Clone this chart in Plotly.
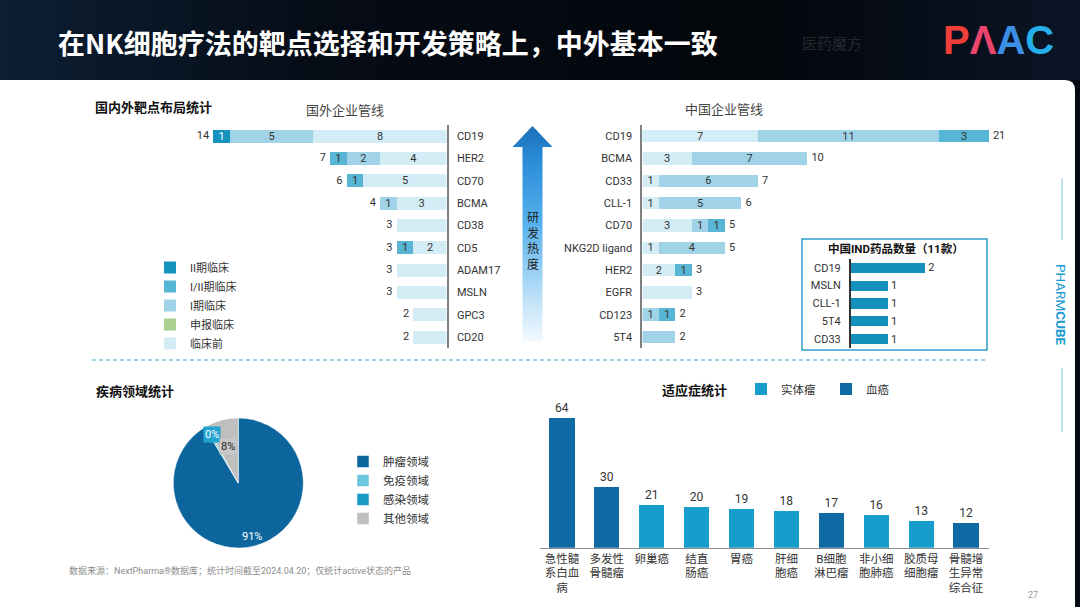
import plotly.graph_objects as go

W, H = 1080, 607


def px(x):
    return x / W


def py(y):
    return 1 - y / H


FONT = "Roboto, 'Noto Sans CJK SC', sans-serif"
CJK = "'Noto Sans CJK SC', sans-serif"

# ---------------- data ----------------
stage_names = ["II期临床", "I/II期临床", "I期临床", "申报临床", "临床前"]
stage_colors = ["#1692bf", "#58b6d4", "#a0d3e7", "#a9d08e", "#d4ecf6"]

foreign_targets = ["CD19", "HER2", "CD70", "BCMA", "CD38", "CD5", "ADAM17", "MSLN", "GPC3", "CD20"]
foreign_preclinical = [8, 4, 5, 3, 3, 2, 3, 3, 2, 2]
foreign_filing = [0, 0, 0, 0, 0, 0, 0, 0, 0, 0]
foreign_phase1 = [5, 2, 0, 1, 0, 0, 0, 0, 0, 0]
foreign_phase12 = [0, 1, 1, 0, 0, 1, 0, 0, 0, 0]
foreign_phase2 = [1, 0, 0, 0, 0, 0, 0, 0, 0, 0]

china_targets = ["CD19", "BCMA", "CD33", "CLL-1", "CD70", "NKG2D ligand", "HER2", "EGFR", "CD123", "5T4"]
china_preclinical = [7, 3, 1, 1, 3, 1, 2, 3, 0, 0]
china_phase1 = [11, 7, 6, 5, 1, 4, 0, 0, 1, 2]
china_phase12 = [3, 0, 0, 0, 1, 0, 1, 0, 1, 0]

ind_targets = ["CD19", "MSLN", "CLL-1", "5T4", "CD33"]
ind_counts = [2, 1, 1, 1, 1]

disease_areas = ["肿瘤领域", "免疫领域", "感染领域", "其他领域"]
disease_share = [91.4, 0.1, 0.4, 8.1]
disease_labels = ["91%", "0%", "8%"]
disease_colors = ["#0d659d", "#6cc4df", "#1a9bc6", "#bfbfbf"]

indications = ["急性髓<br>系白血<br>病", "多发性<br>骨髓瘤", "卵巢癌", "结直<br>肠癌", "胃癌",
               "肝细<br>胞癌", "B细胞<br>淋巴瘤", "非小细<br>胞肺癌", "胶质母<br>细胞瘤", "骨髓增<br>生异常<br>综合征"]
indication_counts = [64, 30, 21, 20, 19, 18, 17, 16, 13, 12]
indication_types = ["血癌", "血癌", "实体瘤", "实体瘤", "实体瘤", "实体瘤", "血癌", "实体瘤", "实体瘤", "血癌"]
type_names = ["实体瘤", "血癌"]
type_colors = ["#179dcb", "#0f69a2"]


def seg_text(vals, totals):
    # segment labels only on multi-segment bars
    return [str(v) if (v and v != t) else "" for v, t in zip(vals, totals)]


fig = go.Figure()

# ---------------- foreign pipeline (left) ----------------
foreign_totals = [a + b + c + d + e for a, b, c, d, e in zip(
    foreign_preclinical, foreign_filing, foreign_phase1, foreign_phase12, foreign_phase2)]
foreign_series = [
    ("临床前", foreign_preclinical, stage_colors[4], "#333333", 5),
    ("申报临床", foreign_filing, stage_colors[3], "#333333", 4),
    ("I期临床", foreign_phase1, stage_colors[2], "#333333", 3),
    ("I/II期临床", foreign_phase12, stage_colors[1], "#333333", 2),
    ("II期临床", foreign_phase2, stage_colors[0], "#ffffff", 1),
]
for name, vals, col, tcol, rank in foreign_series:
    fig.add_trace(go.Bar(
        y=foreign_targets, x=vals, orientation="h", name=name,
        marker=dict(color=col, line=dict(width=0)), width=0.58,
        text=seg_text(vals, foreign_totals), textposition="inside", insidetextanchor="middle",
        textangle=0, constraintext="none",
        textfont=dict(size=11, color=tcol, family=FONT),
        xaxis="x", yaxis="y", legendrank=rank, legend="legend",
    ))

fig.add_trace(go.Scatter(
    y=foreign_targets, x=foreign_totals, mode="markers+text", text=[str(t) for t in foreign_totals],
    marker=dict(size=5, color="rgba(0,0,0,0)"),
    textposition="middle left", textfont=dict(size=11, color="#333333", family=FONT),
    xaxis="x", yaxis="y", showlegend=False, cliponaxis=False,
))

# ---------------- China pipeline (right) ----------------
china_totals = [a + b + c for a, b, c in zip(china_preclinical, china_phase1, china_phase12)]
china_series = [
    ("临床前", china_preclinical, stage_colors[4]),
    ("I期临床", china_phase1, stage_colors[2]),
    ("I/II期临床", china_phase12, stage_colors[1]),
]
for name, vals, col in china_series:
    fig.add_trace(go.Bar(
        y=china_targets, x=vals, orientation="h", name=name,
        marker=dict(color=col, line=dict(width=0)), width=0.56,
        text=seg_text(vals, china_totals), textposition="inside", insidetextanchor="middle",
        textangle=0, constraintext="none",
        textfont=dict(size=11, color="#333333", family=FONT),
        xaxis="x2", yaxis="y2", showlegend=False,
    ))
fig.add_trace(go.Scatter(
    y=china_targets, x=china_totals, mode="markers+text", text=[str(t) for t in china_totals],
    marker=dict(size=5, color="rgba(0,0,0,0)"),
    textposition="middle right", textfont=dict(size=11, color="#333333", family=FONT),
    xaxis="x2", yaxis="y2", showlegend=False, cliponaxis=False,
))

# ---------------- IND inset ----------------
fig.add_trace(go.Bar(
    y=ind_targets, x=ind_counts, orientation="h", width=0.56,
    marker=dict(color="#1590bd", line=dict(width=0)),
    text=[str(v) for v in ind_counts], textposition="outside", constraintext="none",
    textfont=dict(size=11, color="#333333", family=FONT),
    xaxis="x3", yaxis="y3", showlegend=False, cliponaxis=False,
))

# ---------------- disease pie ----------------
fig.add_trace(go.Pie(
    labels=disease_areas, values=disease_share,
    textinfo="none", sort=False, direction="clockwise", rotation=0,
    marker=dict(colors=disease_colors, line=dict(color="#ffffff", width=0.5)),
    domain=dict(x=[px(173.3), px(303.3)], y=[py(548.3), py(417.7)]),
    legend="legend2",
))

# ---------------- indication bars ----------------
for tname, tcol in zip(type_names, type_colors):
    vals = [v if t == tname else None for v, t in zip(indication_counts, indication_types)]
    fig.add_trace(go.Bar(
        x=indications, y=vals, name=tname, width=0.56,
        marker=dict(color=tcol, line=dict(width=0)),
        texttemplate="%{y}", textposition="outside", constraintext="none",
        textfont=dict(size=12, color="#333333", family=FONT),
        xaxis="x4", yaxis="y4", legend="legend3", cliponaxis=False,
    ))

# ---------------- decorations (pixel overlay axis) ----------------
fig.add_trace(go.Scatter(
    x=[0, 1080, 1080, 0, 0], y=[0, 0, 80, 80, 0], mode="lines", fill="toself",
    line=dict(width=0), hoverinfo="skip", showlegend=False,
    fillgradient=dict(type="horizontal", start=0, stop=1080,
                      colorscale=[[0, "#0c1f33"], [0.3, "#060c16"], [0.7, "#03060b"], [1, "#0b1526"]]),
    xaxis="x5", yaxis="y5",
))
fig.add_trace(go.Scatter(
    x=[532.5, 552.5, 542.5, 542.5, 522.5, 522.5, 512.5, 532.5],
    y=[126, 147, 147, 342, 342, 147, 147, 126],
    mode="lines", fill="toself", line=dict(width=0), hoverinfo="skip", showlegend=False,
    fillgradient=dict(type="vertical", start=126, stop=342,
                      colorscale=[[0, "#1a6fb6"], [0.15, "#2a8bd6"], [0.45, "#55b2ee"],
                                  [0.8, "#bfe1f8"], [1, "#f4faff"]]),
    xaxis="x5", yaxis="y5",
))

shapes = [
    dict(type="path", xref="paper", yref="paper", layer="below",
         path=(f"M{px(0)},{py(80)} L{px(1065)},{py(80)} Q{px(1075)},{py(80)} {px(1075)},{py(90)} "
               f"L{px(1075)},{py(607)} L{px(0)},{py(607)} Z"),
         fillcolor="#ffffff", line=dict(width=0)),
    dict(type="rect", xref="paper", yref="paper", layer="below",
         x0=px(802), x1=px(987), y0=py(350), y1=py(239),
         fillcolor="#ffffff", line=dict(color="#2f9dc9", width=1.5)),
    dict(type="line", xref="paper", yref="paper", x0=px(92), x1=px(988), y0=py(360), y1=py(360),
         line=dict(color="#4d9fd0", width=1.2, dash="4px,3px")),
    dict(type="line", xref="paper", yref="paper", x0=px(1062), x1=px(1062), y0=py(178), y1=py(240),
         line=dict(color="#7ec5e2", width=1)),
    dict(type="line", xref="paper", yref="paper", x0=px(1062), x1=px(1062), y0=py(368), y1=py(432),
         line=dict(color="#7ec5e2", width=1)),
]


def ann(x, y, text, size, color="#333333", xanchor="left", family=FONT, **kw):
    d = dict(x=px(x), y=py(y), xref="paper", yref="paper", text=text, showarrow=False,
             xanchor=xanchor, yanchor="middle", font=dict(size=size, color=color, family=family))
    d.update(kw)
    return d


annotations = [
    ann(56, 42, "<b>在NK细胞疗法的靶点选择和开发策略上，中外基本一致</b>", 27, "#ffffff", family=CJK),
    ann(800, 42, "医药魔方", 15, "rgba(255,255,255,0.14)", family=CJK),
    ann(998, 40, "<b><span style='color:#ee3f3a'>P</span><span style='color:#e9466e'>Λ</span>"
                 "<span style='color:#3d8fe6'>A</span><span style='color:#25aee9'>C</span></b>",
        40, "#ee3f3a", xanchor="center", family="'Liberation Sans', sans-serif"),
    ann(93, 107, "<b>国内外靶点布局统计</b>", 13, "#111111", family=CJK),
    ann(345, 109, "国外企业管线", 13, "#444444", xanchor="center", family=CJK),
    ann(724, 108, "中国企业管线", 13, "#444444", xanchor="center", family=CJK),
    ann(532.5, 240, "研<br>发<br>热<br>度", 12, "#222222", xanchor="center", family=CJK),
    ann(896, 249, "<b>中国IND药品数量（11款）</b>", 11.5, "#111111", xanchor="center", family=FONT),
    ann(94, 390, "<b>疾病领域统计</b>", 13, "#111111", family=CJK),
    ann(660, 389, "<b>适应症统计</b>", 13, "#111111", family=CJK),
    ann(252, 536, disease_labels[0], 11, "#ffffff", xanchor="center"),
    ann(211.7, 434.3, disease_labels[1], 11, "#ffffff", xanchor="center", bgcolor="#23a3cf", borderpad=1),
    ann(228.3, 446.7, disease_labels[2], 11, "#222222", xanchor="center", bgcolor="#c8c8c8", borderpad=1),
    ann(67, 570, "数据来源：NextPharma®数据库；统计时间截至2024.04.20；仅统计active状态的产品",
        9, "#8c8c8c"),
    ann(1033, 595, "27", 9, "#999999", xanchor="center"),
    ann(1061, 305, "PHARM<b>CUBE</b>", 13.5, "#1b9ad0", xanchor="center", textangle=90),
]

cat_axis = dict(type="category", showgrid=False, zeroline=False, ticks="",
                tickfont=dict(size=11, color="#333333", family=FONT), fixedrange=True)

fig.update_layout(
    width=W, height=H, margin=dict(l=0, r=0, t=0, b=0),
    paper_bgcolor="#050a12", plot_bgcolor="rgba(0,0,0,0)",
    barmode="stack", hovermode=False, font=dict(family=FONT, color="#333333"),
    shapes=shapes, annotations=annotations,
    xaxis=dict(domain=[px(446.7 - 15 * 16.67), px(446.7)], range=[15, 0], visible=False, fixedrange=True),
    yaxis=dict(cat_axis, domain=[py(348.2), py(125)], anchor="x", side="right",
               categoryorder="array", categoryarray=foreign_targets, range=[9.5, -0.5],
               showline=True, linecolor="#808080", linewidth=2, ticklabelstandoff=6),
    xaxis2=dict(domain=[px(642.3), px(642.3 + 22 * 16.5)], range=[0, 22], visible=False, fixedrange=True),
    yaxis2=dict(cat_axis, domain=[py(348.2), py(125)], anchor="x2", side="left",
                categoryorder="array", categoryarray=china_targets, range=[9.5, -0.5],
                showline=True, linecolor="#808080", linewidth=2, ticklabelstandoff=6),
    xaxis3=dict(domain=[px(850.7), px(850.7 + 3.6 * 37.3)], range=[0, 3.6], visible=False, fixedrange=True),
    yaxis3=dict(cat_axis, domain=[py(348.25), py(258.75)], anchor="x3", side="left",
                categoryorder="array", categoryarray=ind_targets, range=[4.5, -0.5],
                showline=True, linecolor="#333333", linewidth=1.5, ticklabelstandoff=6),
    xaxis4=dict(cat_axis, domain=[px(539.5), px(988.5)], anchor="y4",
                categoryorder="array", categoryarray=indications,
                showline=True, linecolor="#8c8c8c", linewidth=1,
                tickfont=dict(size=11.5, color="#333333", family=FONT)),
    yaxis4=dict(domain=[py(547.7), py(405.6)], range=[0, 70], anchor="x4", visible=False, fixedrange=True),
    xaxis5=dict(domain=[0, 1], range=[0, 1080], visible=False, fixedrange=True, anchor="y5"),
    yaxis5=dict(domain=[0, 1], range=[607, 0], visible=False, fixedrange=True, anchor="x5"),
    legend=dict(x=px(150), y=py(253), xanchor="left", yanchor="top", bgcolor="rgba(0,0,0,0)",
                font=dict(size=11, color="#333333", family=FONT), traceorder="normal",
                tracegroupgap=0, borderwidth=0),
    legend2=dict(x=px(343), y=py(447), xanchor="left", yanchor="top", bgcolor="rgba(0,0,0,0)",
                 font=dict(size=11.5, color="#333333", family=FONT), borderwidth=0,
                 traceorder="normal"),
    legend3=dict(x=px(741), y=py(389), xanchor="left", yanchor="middle", orientation="h",
                 bgcolor="rgba(0,0,0,0)", entrywidth=40, traceorder="normal",
                 font=dict(size=11.5, color="#333333", family=FONT), borderwidth=0),
)

fig.write_html("out.html", config={"displayModeBar": False},
               post_script="document.body.style.margin='0px';document.body.style.overflow='hidden';")
